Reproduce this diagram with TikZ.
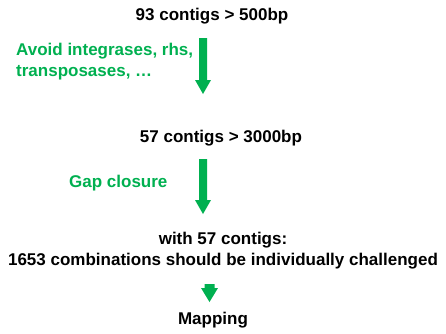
\documentclass[tikz,border=0pt]{standalone}
\usepackage{fontspec}
\setmainfont{Liberation Sans}
\definecolor{stepgreen}{RGB}{0,176,80}
\begin{document}
\begin{tikzpicture}[x=1pt,y=-1pt,
  stage/.style={font=\fontsize{17}{21}\selectfont\bfseries, text=black, inner sep=0pt, align=center},
  note/.style={font=\fontsize{17}{21}\selectfont\bfseries, text=stepgreen, inner sep=0pt, align=left},
  flow/.style={fill=stepgreen, draw=none}]
\useasboundingbox (0,0) rectangle (446,333);
% stage labels
\node[stage] (s1) at (212,16) {93 contigs > 500bp};
\node[stage] (s2) at (221,138) {57 contigs > 3000bp};
\node[stage] (s3) at (223,251) {with 57 contigs:\\1653 combinations should be individually challenged};
\node[stage] (s4) at (213,320) {Mapping};
% step notes
\node[note, anchor=west] (n1) at (16,62) {Avoid integrases, rhs,\\transposases, \ldots};
\node[note, anchor=west] (n2) at (69,183) {Gap closure};
% block arrows
\coordinate (a1) at (203,38);
\coordinate (a2) at (203,159);
\coordinate (a3) at (209.5,284);
\fill[flow] (a1) ++(-4,0) -- ++(8,0) -- ++(0,42) -- ++(4,0) -- ++(-8,14) -- ++(-8,-14) -- ++(4,0) -- cycle;
\fill[flow] (a2) ++(-4,0) -- ++(8,0) -- ++(0,41) -- ++(4,0) -- ++(-8,14) -- ++(-8,-14) -- ++(4,0) -- cycle;
\fill[flow] (a3) ++(-5,0) -- ++(10,0) -- ++(0,4) -- ++(3.5,0) -- ++(-8.5,14) -- ++(-8.5,-14) -- ++(3.5,0) -- cycle;
\end{tikzpicture}
\end{document}
